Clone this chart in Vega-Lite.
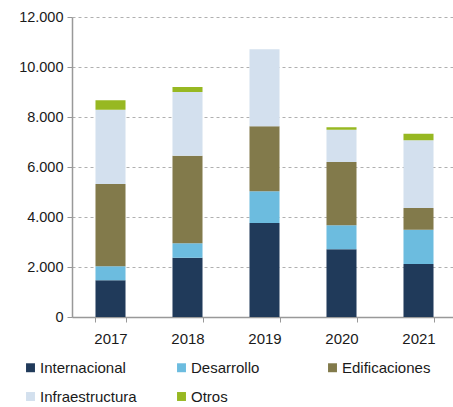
{
  "$schema": "https://vega.github.io/schema/vega-lite/v6.json",
  "autosize": "none",
  "width": 385,
  "height": 300,
  "padding": {"left": 72, "top": 17, "right": 0, "bottom": 90},
  "background": "white",
  "config": {
    "locale": {"number": {"decimal": ",", "thousands": ".", "grouping": [3], "currency": ["", "€"]}},
    "view": {"stroke": null},
    "font": "Liberation Sans"
  },
  "data": {
    "values": [
      {"year": "2017", "segmento": "Internacional", "valor": 1470},
      {"year": "2017", "segmento": "Desarrollo", "valor": 560},
      {"year": "2017", "segmento": "Edificaciones", "valor": 3290},
      {"year": "2017", "segmento": "Infraestructura", "valor": 2970},
      {"year": "2017", "segmento": "Otros", "valor": 380},
      {"year": "2018", "segmento": "Internacional", "valor": 2370},
      {"year": "2018", "segmento": "Desarrollo", "valor": 580},
      {"year": "2018", "segmento": "Edificaciones", "valor": 3500},
      {"year": "2018", "segmento": "Infraestructura", "valor": 2550},
      {"year": "2018", "segmento": "Otros", "valor": 200},
      {"year": "2019", "segmento": "Internacional", "valor": 3760},
      {"year": "2019", "segmento": "Desarrollo", "valor": 1270},
      {"year": "2019", "segmento": "Edificaciones", "valor": 2600},
      {"year": "2019", "segmento": "Infraestructura", "valor": 3080},
      {"year": "2019", "segmento": "Otros", "valor": 0},
      {"year": "2020", "segmento": "Internacional", "valor": 2710},
      {"year": "2020", "segmento": "Desarrollo", "valor": 960},
      {"year": "2020", "segmento": "Edificaciones", "valor": 2530},
      {"year": "2020", "segmento": "Infraestructura", "valor": 1290},
      {"year": "2020", "segmento": "Otros", "valor": 100},
      {"year": "2021", "segmento": "Internacional", "valor": 2120},
      {"year": "2021", "segmento": "Desarrollo", "valor": 1370},
      {"year": "2021", "segmento": "Edificaciones", "valor": 870},
      {"year": "2021", "segmento": "Infraestructura", "valor": 2710},
      {"year": "2021", "segmento": "Otros", "valor": 260}
    ]
  },
  "transform": [
    {"calculate": "indexof(['Internacional','Desarrollo','Edificaciones','Infraestructura','Otros'], datum.segmento)", "as": "orden"}
  ],
  "mark": {"type": "bar"},
  "encoding": {
    "x": {
      "field": "year",
      "type": "ordinal",
      "scale": {"paddingInner": 0.61, "paddingOuter": 0.305},
      "axis": {
        "title": null,
        "labelAngle": 0,
        "labelFontSize": 15,
        "labelColor": "#1a1a1a",
        "labelPadding": 9,
        "tickBand": "extent",
        "tickSize": 5,
        "tickColor": "#999999",
        "domainColor": "#999999",
        "domainWidth": 1.5
      }
    },
    "y": {
      "field": "valor",
      "type": "quantitative",
      "stack": "zero",
      "scale": {"domain": [0, 12000]},
      "axis": {
        "title": null,
        "format": ",.0f",
        "values": [0, 2000, 4000, 6000, 8000, 10000, 12000],
        "labelFontSize": 14.5,
        "labelColor": "#1a1a1a",
        "labelPadding": 4,
        "tickSize": 5,
        "tickColor": "#999999",
        "domainColor": "#999999",
        "domainWidth": 1.5,
        "gridColor": "#b0b0b0",
        "gridDash": [3, 3],
        "gridWidth": 1
      }
    },
    "order": {"field": "orden", "type": "quantitative", "sort": "ascending"},
    "color": {
      "field": "segmento",
      "type": "nominal",
      "sort": ["Internacional", "Desarrollo", "Edificaciones", "Infraestructura", "Otros"],
      "scale": {
        "domain": ["Internacional", "Desarrollo", "Edificaciones", "Infraestructura", "Otros"],
        "range": ["#203a5a", "#6cbcdf", "#827a4b", "#d3e0ee", "#97b822"]
      },
      "legend": {
        "title": null,
        "orient": "none",
        "legendX": -49,
        "legendY": 343,
        "direction": "horizontal",
        "columns": 3,
        "gridAlign": "all",
        "columnPadding": 37,
        "rowPadding": 13,
        "padding": 0,
        "symbolType": "square",
        "symbolSize": 80,
        "symbolStrokeWidth": 0,
        "labelFontSize": 15,
        "labelColor": "#1a1a1a",
        "labelOffset": 2,
        "labelLimit": 200
      }
    }
  }
}
